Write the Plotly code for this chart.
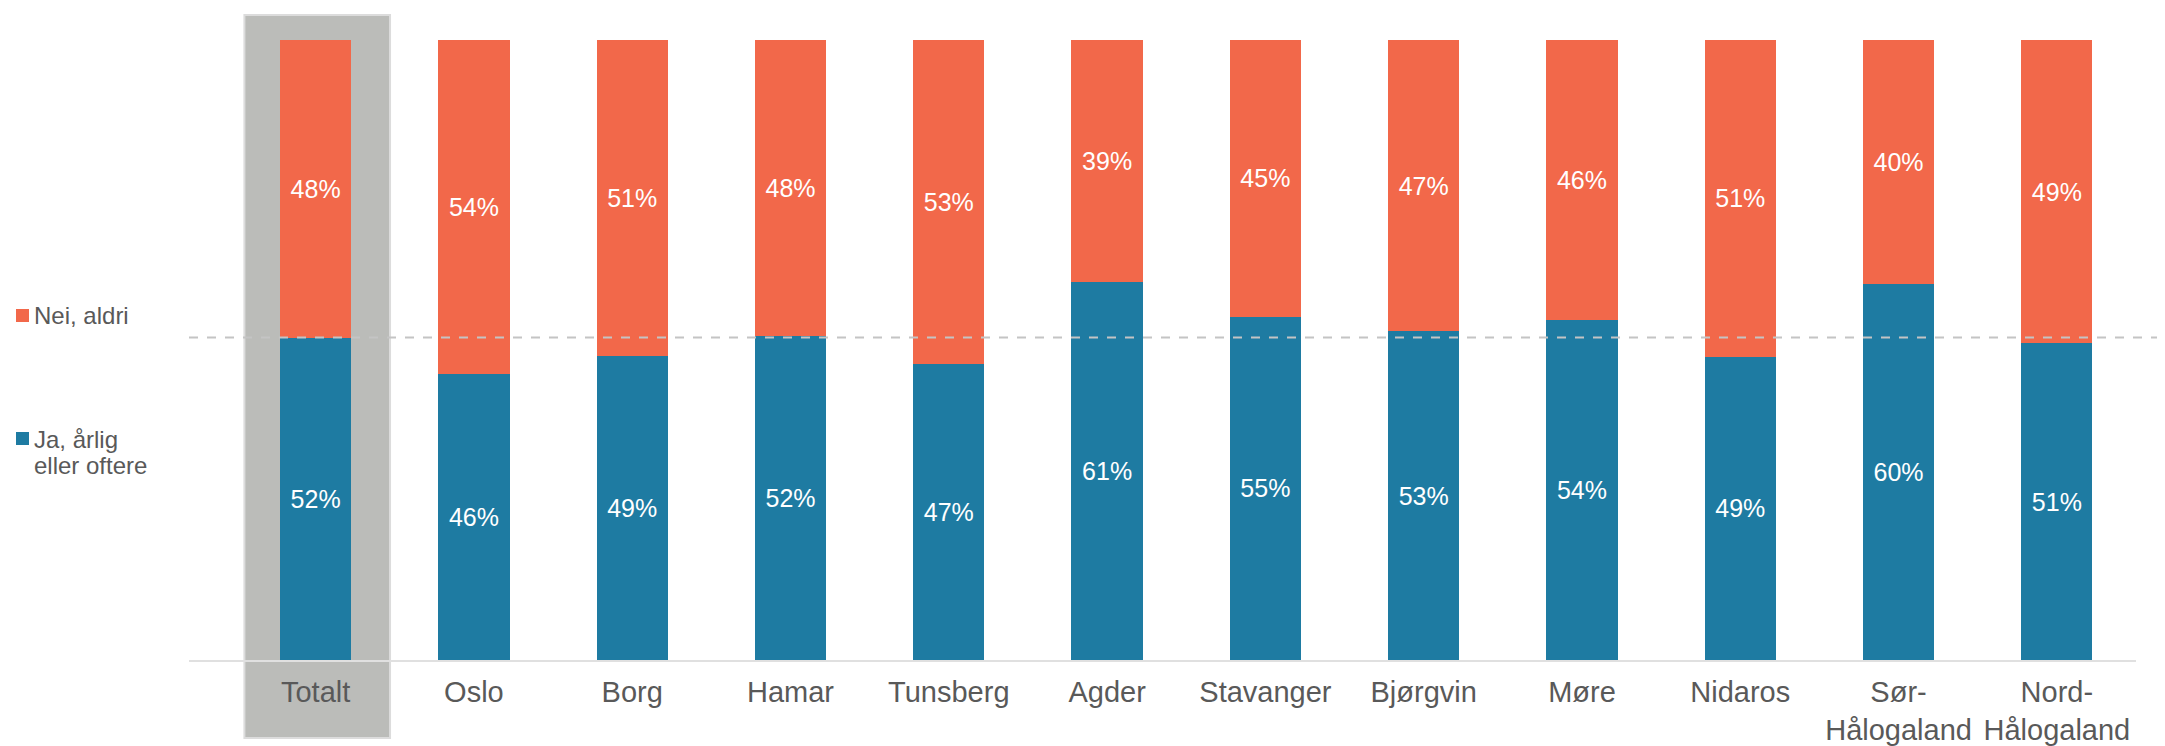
import plotly.graph_objects as go

# Categories and shares (%)
categories = ["Totalt", "Oslo", "Borg", "Hamar", "Tunsberg", "Agder", "Stavanger",
              "Bjørgvin", "Møre", "Nidaros", "Sør-<br>Hålogaland", "Nord-<br>Hålogaland"]
ja_values = [52.0, 46.2, 49.1, 52.3, 47.7, 60.9, 55.4, 53.0, 54.8, 48.9, 60.7, 51.1]
nei_values = [48.0, 53.8, 50.9, 47.7, 52.3, 39.1, 44.6, 47.0, 45.2, 51.1, 39.3, 48.9]
ja_labels = ["52%", "46%", "49%", "52%", "47%", "61%", "55%", "53%", "54%", "49%", "60%", "51%"]
nei_labels = ["48%", "54%", "51%", "48%", "53%", "39%", "45%", "47%", "46%", "51%", "40%", "49%"]
reference_line = 52  # Totalt

BLUE = "#1E7BA2"
ORANGE = "#F2684A"
GREY_TEXT = "#595959"
FONT = "Arial, Liberation Sans, sans-serif"

# page is 2165x746, the plot div sits at (8, 8) because of the body margin
OFF = 8
W, H = 2165 - OFF, 746 - OFF
# plot area in page pixels: x 189..2136, y 40..660
L, R, T, B = 189 - OFF, 2165 - 2136, 40 - OFF, 746 - 660
plot_w, plot_h = W - L - R, H - T - B


def px_x(x):
    # page pixel -> paper
    return (x - OFF - L) / plot_w


def px_y(y):
    return (H - B - (y - OFF)) / plot_h


fig = go.Figure()
fig.add_trace(go.Bar(
    x=categories, y=ja_values, name="Ja, årlig eller oftere",
    marker=dict(color=BLUE, line=dict(width=0)),
    text=ja_labels, textposition="inside", insidetextanchor="middle",
    textangle=0, textfont=dict(color="white", size=25, family=FONT),
    width=0.45, hoverinfo="skip",
))
fig.add_trace(go.Bar(
    x=categories, y=nei_values, name="Nei, aldri",
    marker=dict(color=ORANGE, line=dict(width=0)),
    text=nei_labels, textposition="inside", insidetextanchor="middle",
    textangle=0, textfont=dict(color="white", size=25, family=FONT),
    width=0.45, hoverinfo="skip",
))

shapes = [
    # grey highlight behind "Totalt"
    dict(type="rect", xref="x", yref="paper", x0=-0.45, x1=0.47,
         y0=px_y(738), y1=px_y(15), fillcolor="#BBBCB9",
         line=dict(color="#DCDCDC", width=2), layer="below"),
    # dashed reference line at the Totalt value
    dict(type="line", xref="paper", yref="y", x0=0, x1=px_x(2165),
         y0=reference_line, y1=reference_line,
         line=dict(color="#C4C4C4", width=2, dash="dash"), layer="above"),
    # legend squares
    dict(type="rect", xref="paper", yref="paper", x0=px_x(16), x1=px_x(29),
         y0=px_y(322), y1=px_y(309), fillcolor=ORANGE, line=dict(width=0)),
    dict(type="rect", xref="paper", yref="paper", x0=px_x(16), x1=px_x(29),
         y0=px_y(445), y1=px_y(432), fillcolor=BLUE, line=dict(width=0)),
]

legend_font = dict(family=FONT, size=24, color=GREY_TEXT)
annotations = [
    dict(text="Nei, aldri", xref="paper", yref="paper", x=px_x(32), y=px_y(315),
         xanchor="left", yanchor="middle", showarrow=False, font=legend_font),
    dict(text="Ja, årlig", xref="paper", yref="paper", x=px_x(32), y=px_y(439),
         xanchor="left", yanchor="middle", showarrow=False, font=legend_font),
    dict(text="eller oftere", xref="paper", yref="paper", x=px_x(32), y=px_y(465),
         xanchor="left", yanchor="middle", showarrow=False, font=legend_font),
]

fig.update_layout(
    barmode="stack",
    width=W, height=H,
    margin=dict(l=L, r=R, t=T, b=B, pad=0, autoexpand=False),
    paper_bgcolor="white", plot_bgcolor="white",
    showlegend=False,
    shapes=shapes,
    annotations=annotations,
    font=dict(family=FONT, color=GREY_TEXT),
    xaxis=dict(
        range=[-0.8, 11.5], showgrid=False, zeroline=False, automargin=False,
        showline=True, linecolor="#E0E0E0", linewidth=2,
        ticks="outside", ticklen=5, tickcolor="rgba(0,0,0,0)",
        tickfont=dict(family=FONT, size=29, color=GREY_TEXT),
    ),
    yaxis=dict(range=[0, 100], visible=False, showgrid=False, zeroline=False,
               automargin=False),
)

fig.write_html("out.html")
